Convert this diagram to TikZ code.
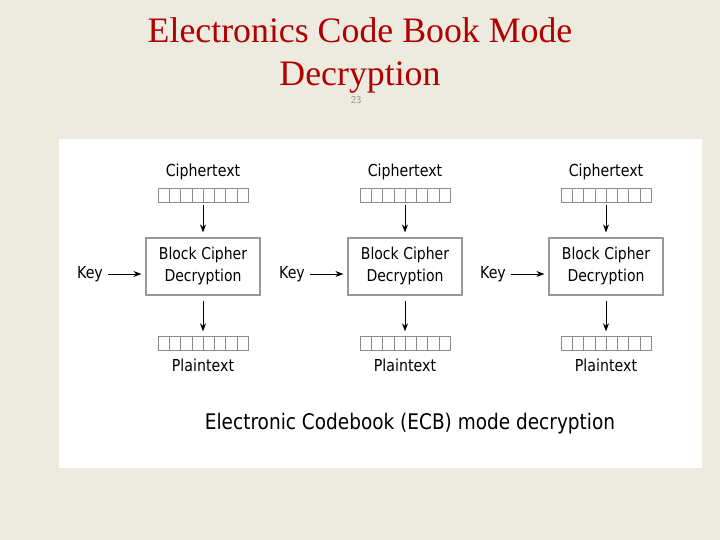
\documentclass[tikz,border=0pt]{standalone}
\usepackage{fontspec}
\usetikzlibrary{arrows.meta}
\setmainfont{Liberation Serif}
\newfontfamily\ecbfont[FakeStretch=0.86]{DejaVu Sans}
\definecolor{slidebg}{HTML}{EDEAE0}
\definecolor{titlered}{HTML}{B00000}
\definecolor{cellgray}{HTML}{8C8C8C}
\tikzset{
  cellrow/.style={draw=cellgray,minimum width=90pt,minimum height=14pt,inner sep=0pt,
    path picture={\foreach \k in {1,...,7}
      \draw[cellgray] ([xshift=\k*11.25pt]path picture bounding box.south west)
        -- ([xshift=\k*11.25pt]path picture bounding box.north west);}},
  cipherbox/.style={draw=black!40,line width=1.2pt,minimum width=114pt,minimum height=57pt,
    align=center,font=\ecbfont\fontsize{16.3}{22}\selectfont},
  ecblabel/.style={font=\ecbfont\fontsize{16.5}{18}\selectfont},
  flow/.style={->,line width=0.8pt}
}
\begin{document}
\begin{tikzpicture}[x=1pt,y=-1pt,>={Stealth[length=8pt,width=6pt]}]
\fill[slidebg] (0,0) rectangle (720,540);
\useasboundingbox (0,0) rectangle (720,540);
\fill[white] (59,139) rectangle (702,468);
% title
\node[titlered,anchor=base,font=\fontsize{35.8}{42}\selectfont] (title1) at (360,43) {Electronics Code Book Mode};
\node[titlered,anchor=base,font=\fontsize{35.8}{42}\selectfont] (title2) at (360,86) {Decryption};
\node[black!45,font=\sffamily\fontsize{10.5}{12}\selectfont] (pagenum) at (356,100) {23};
% three blocks
\foreach \i/\cx in {1/203,2/405,3/606}{
  \node[ecblabel] (ctext\i) at (\cx,172) {Ciphertext};
  \node[cellrow] (cblock\i) at (\cx,195) {};
  \node[cipherbox] (box\i) at (\cx,266.5) {Block Cipher\\Decryption};
  \node[cellrow] (pblock\i) at (\cx,343.5) {};
  \node[ecblabel] (ptext\i) at (\cx,365) {Plaintext};
  \node[ecblabel] (key\i) at (\cx-113,274) {Key};
  \draw[flow,shorten <=3pt,shorten >=5pt] (cblock\i) -- (box\i);
  \draw[flow,shorten <=5pt,shorten >=5pt] (box\i) -- (pblock\i);
  \draw[flow,shorten <=2pt,shorten >=4pt] (key\i.east) -- (key\i.east -| box\i.west);
}
\node[font=\ecbfont\fontsize{21.5}{24}\selectfont] (caption) at (410,424) {Electronic Codebook (ECB) mode decryption};
\end{tikzpicture}
\end{document}
